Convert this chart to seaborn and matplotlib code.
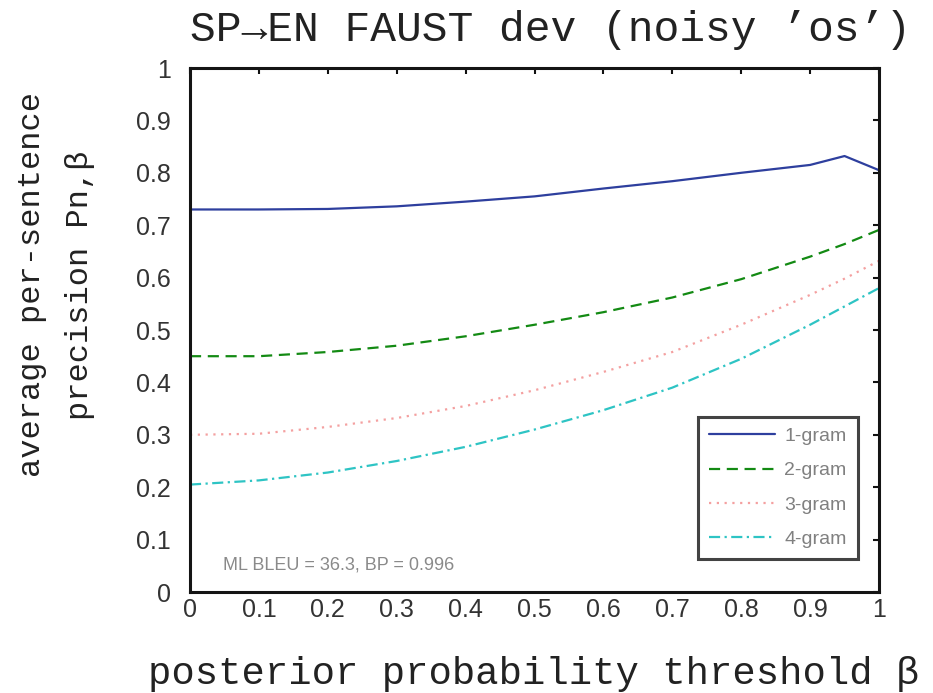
import matplotlib
matplotlib.use("Agg")
import matplotlib.pyplot as plt
import seaborn as sns
import pandas as pd
from matplotlib.ticker import FormatStrFormatter

sns.set_theme(style="white")

beta = [0.0, 0.1, 0.2, 0.3, 0.4, 0.5, 0.6, 0.7, 0.8, 0.9, 0.95, 1.0]
p1 = [0.730, 0.730, 0.731, 0.736, 0.745, 0.755, 0.770, 0.784, 0.800, 0.815, 0.832, 0.805]
p2 = [0.450, 0.450, 0.458, 0.470, 0.488, 0.510, 0.534, 0.562, 0.597, 0.640, 0.664, 0.691]
p3 = [0.300, 0.302, 0.315, 0.332, 0.355, 0.385, 0.420, 0.458, 0.510, 0.567, 0.598, 0.632]
p4 = [0.205, 0.213, 0.228, 0.250, 0.277, 0.310, 0.347, 0.390, 0.445, 0.510, 0.545, 0.580]
labels = ["1-gram", "2-gram", "3-gram", "4-gram"]
title = "SP\u2192EN FAUST dev (noisy \u2019os\u2019)"
xlabel = "posterior probability threshold \u03b2"
ylabel = "average per-sentence\nprecision Pn,\u03b2"
note = "ML BLEU = 36.3, BP = 0.996"

colors = ["#2e3f9e", "#138a13", "#f4a0a0", "#2ec4c4"]
styles = ["-", (0, (5, 3)), (0, (1, 2.5)), (0, (5, 2, 1, 2))]

fig = plt.figure(figsize=(9.33, 6.93), dpi=100)
ax = fig.add_axes([190/933, 1-592/693, (879-190)/933, (592-68)/693])

for vals, lab, c, ls in zip([p1, p2, p3, p4], labels, colors, styles):
    df = pd.DataFrame({"beta": beta, "p": vals})
    sns.lineplot(data=df, x="beta", y="p", ax=ax, color=c, linestyle=ls,
                 linewidth=1.6, label=lab)

ax.set_xlim(0, 1)
ax.set_ylim(0, 1)
ticks = [i/10 for i in range(11)]
ax.set_xticks(ticks)
ax.set_yticks(ticks)
ax.xaxis.set_major_formatter(FormatStrFormatter('%g'))
ax.yaxis.set_major_formatter(FormatStrFormatter('%g'))
ax.tick_params(direction="in", length=4, width=1.5, colors="#111111",
               top=True, right=True, labelsize=18, labelcolor="#333333")
ax.tick_params(axis="x", pad=4)
ax.tick_params(axis="y", pad=14)
for lbl in ax.get_xticklabels() + ax.get_yticklabels():
    lbl.set_family("Liberation Sans")
for sp in ax.spines.values():
    sp.set_color("#141414")
    sp.set_linewidth(2.2)
ax.set_xlabel("")
ax.set_ylabel("")

leg = ax.legend(loc="lower right", bbox_to_anchor=(0.983, 0.045), frameon=True,
                fancybox=False, edgecolor="#141414",
                handlelength=3.4, handletextpad=0.5, labelspacing=0.86,
                borderpad=0.55,
                prop={"family": "Liberation Sans", "size": 14})
leg.get_frame().set_linewidth(2.2)
for t in leg.get_texts():
    t.set_color("#808080")

ax.text(0.048, 0.042, note, transform=ax.transAxes, fontsize=13,
        color="#8a8a8a", family="Liberation Sans")

fig.text(550/933, 1-30/693, title, ha="center", va="center", fontsize=31,
         family=["Liberation Mono", "DejaVu Sans Mono"], color="#222222")
fig.text(534/933, 1-674/693, xlabel, ha="center", va="center", fontsize=28,
         family=["Liberation Mono", "DejaVu Sans Mono"], color="#222222")
fig.text(56/933, 1-285/693, ylabel, ha="center", va="center", rotation=90,
         fontsize=23, family=["Liberation Mono", "DejaVu Sans Mono"],
         color="#222222", multialignment="center", linespacing=1.75)

fig.savefig("out.png", dpi=100)
